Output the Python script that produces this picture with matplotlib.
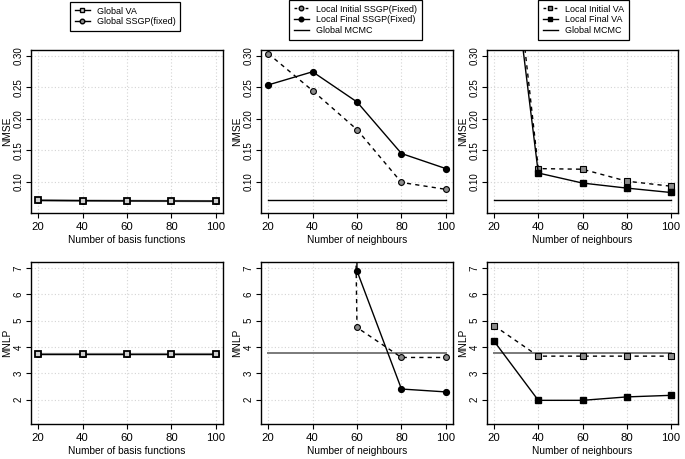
import numpy as np
import matplotlib
matplotlib.use("Agg")
import matplotlib.pyplot as plt
from matplotlib.lines import Line2D

plt.rcParams['font.family'] = ['Liberation Sans', 'DejaVu Sans']

x_vals = [20, 40, 60, 80, 100]

# NMSE
nmse_global_va = [0.0705, 0.0700, 0.0697, 0.0695, 0.0693]
nmse_global_ssgp = [0.0705, 0.0700, 0.0697, 0.0695, 0.0693]
nmse_local_init_ssgp = [0.304, 0.245, 0.183, 0.099, 0.088]
nmse_local_final_ssgp = [0.254, 0.275, 0.227, 0.145, 0.121]
nmse_local_init_va = [0.751, 0.121, 0.120, 0.101, 0.093]
nmse_local_final_va = [0.685, 0.114, 0.098, 0.090, 0.083]
nmse_global_mcmc = 0.0715

# MNLP
mnlp_global_va = [3.75, 3.75, 3.75, 3.75, 3.75]
mnlp_global_ssgp = [3.75, 3.75, 3.75, 3.75, 3.75]
mnlp_local_init_ssgp = [150.0, 120.0, 4.74, 3.60, 3.60]
mnlp_local_final_ssgp = [200.0, 180.0, 6.89, 2.40, 2.29]
mnlp_local_init_va = [4.81, 3.65, 3.65, 3.65, 3.65]
mnlp_local_final_va = [4.22, 1.97, 1.97, 2.10, 2.16]
mnlp_global_mcmc = 3.77

W, H = 685, 459
fig = plt.figure(figsize=(W / 100, H / 100), dpi=100)

lefts = [31, 261, 487]
widths = [192, 192, 191]
rows = [(50, 213), (262, 424)]

FS_XTICK = 8.2
FS_YTICK = 7.0
FS_LAB = 7.3
FS_LEG = 6.5

def make_ax(col, row):
    top, bot = rows[row]
    ax = fig.add_axes([lefts[col] / W, (H - bot) / H, widths[col] / W, (bot - top) / H])
    ax.set_xlim(16.8, 103.2)
    ax.set_xticks(x_vals)
    if row == 0:
        ax.set_ylim(0.0504, 0.3096)
        ax.set_yticks([0.10, 0.15, 0.20, 0.25, 0.30])
        ax.set_yticklabels(['0.10', '0.15', '0.20', '0.25', '0.30'])
        ax.set_ylabel('NMSE', fontsize=FS_LAB)
    else:
        ax.set_ylim(1.07, 7.23)
        ax.set_yticks([2, 3, 4, 5, 6, 7])
        ax.set_ylabel('MNLP', fontsize=FS_LAB)
    ax.yaxis.set_label_coords(-19 / widths[col], 0.5)
    ax.grid(True, color='#d4d4d4', linestyle=(0, (1, 2)), linewidth=0.8)
    ax.set_axisbelow(True)
    ax.tick_params(direction='out', length=3.6, width=0.8)
    ax.tick_params(axis='x', labelsize=FS_XTICK, pad=3)
    ax.tick_params(axis='y', labelsize=FS_YTICK, pad=1.5)
    for lab in ax.get_yticklabels():
        lab.set_rotation(90)
        lab.set_va('center')
    for s in ax.spines.values():
        s.set_linewidth(1.0)
        s.set_color('black')
    return ax

ms = 4.2
gray = '#8c8c8c'

# Column 1
for row, (va, ssgp) in enumerate([(nmse_global_va, nmse_global_ssgp), (mnlp_global_va, mnlp_global_ssgp)]):
    ax = make_ax(0, row)
    ax.plot(x_vals, ssgp, color=gray, lw=1.6, marker='o', ms=ms, mfc=gray, mec='black', mew=0.8)
    ax.plot(x_vals, va, color='black', lw=1.0, marker='s', ms=4.8, mfc='#d0d0d0', mec='black', mew=1.3)
    ax.set_xlabel('Number of basis functions', fontsize=FS_LAB, labelpad=2)

# Column 2
for row, (ini, fin, mc) in enumerate([(nmse_local_init_ssgp, nmse_local_final_ssgp, nmse_global_mcmc),
                                      (mnlp_local_init_ssgp, mnlp_local_final_ssgp, mnlp_global_mcmc)]):
    ax = make_ax(1, row)
    mcc = 'black' if row == 0 else '#7a7a7a'
    mlw = 1.0 if row == 0 else 1.4
    ax.plot([x_vals[0], x_vals[-1]], [mc, mc], color=mcc, lw=mlw)
    ax.plot(x_vals, ini, color='black', lw=1.0, ls=(0, (3, 3)), marker='o', ms=ms, mfc=gray, mec='black', mew=0.8)
    ax.plot(x_vals, fin, color='black', lw=1.0, marker='o', ms=ms, mfc='black', mec='black')
    ax.set_xlabel('Number of neighbours', fontsize=FS_LAB, labelpad=2)

# Column 3
for row, (ini, fin, mc) in enumerate([(nmse_local_init_va, nmse_local_final_va, nmse_global_mcmc),
                                      (mnlp_local_init_va, mnlp_local_final_va, mnlp_global_mcmc)]):
    ax = make_ax(2, row)
    mcc = 'black' if row == 0 else '#7a7a7a'
    mlw = 1.0 if row == 0 else 1.4
    ax.plot([x_vals[0], x_vals[-1]], [mc, mc], color=mcc, lw=mlw)
    ax.plot(x_vals, ini, color='black', lw=1.0, ls=(0, (3, 3)), marker='s', ms=ms, mfc=gray, mec='black', mew=0.8)
    ax.plot(x_vals, fin, color='black', lw=1.0, marker='s', ms=ms, mfc='black', mec='black')
    ax.set_xlabel('Number of neighbours', fontsize=FS_LAB, labelpad=2)

def add_legend(handles, labels, x0, y0):
    leg = fig.legend(handles, labels, loc='upper left', bbox_to_anchor=(x0 / W, 1 - y0 / H),
                     fontsize=FS_LEG, frameon=True, fancybox=False, edgecolor='black',
                     framealpha=1, handlelength=1.7, handletextpad=0.8, labelspacing=0.2,
                     borderpad=0.5, borderaxespad=0)
    leg.get_frame().set_linewidth(0.9)

h1 = [Line2D([], [], color='black', lw=1.0, marker='s', ms=3.3, mfc='#d0d0d0', mec='black'),
      Line2D([], [], color='black', lw=1.0, marker='o', ms=3.3, mfc=gray, mec='black')]
add_legend(h1, ['Global VA', 'Global SSGP(fixed)'], 70, 2)

h2 = [Line2D([], [], color='black', lw=1.0, ls=(0, (2, 2)), marker='o', ms=3.3, mfc=gray, mec='black'),
      Line2D([], [], color='black', lw=1.0, marker='o', ms=3.3, mfc='black', mec='black'),
      Line2D([], [], color='black', lw=1.0)]
add_legend(h2, ['Local Initial SSGP(Fixed)', 'Local Final SSGP(Fixed)', 'Global MCMC'], 289, 0)

h3 = [Line2D([], [], color='black', lw=1.0, ls=(0, (2, 2)), marker='s', ms=3.3, mfc=gray, mec='black'),
      Line2D([], [], color='black', lw=1.0, marker='s', ms=3.3, mfc='black', mec='black'),
      Line2D([], [], color='black', lw=1.0)]
add_legend(h3, ['Local Initial VA', 'Local Final VA', 'Global MCMC'], 538, 0)

fig.savefig('out.png', dpi=100)
